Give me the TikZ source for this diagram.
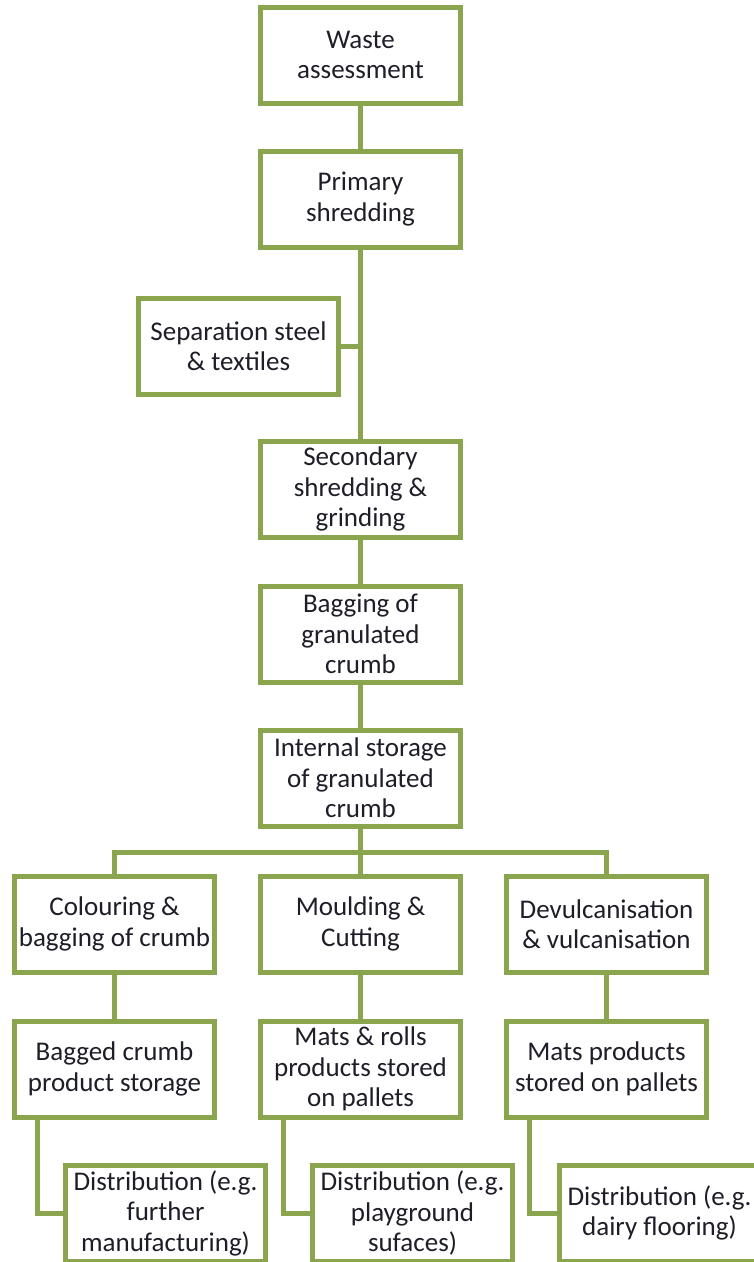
\documentclass[tikz,border=0pt]{standalone}
\usepackage{fontspec}
\setmainfont{Carlito}
\usepackage{tikz}
\usetikzlibrary{calc,positioning}
\definecolor{OliveLine}{HTML}{8BA54F}
\definecolor{TextDark}{HTML}{1E1E28}

\begin{document}
\begin{tikzpicture}[x=1pt,y=-1pt,
    stage/.style={draw=OliveLine,line width=5pt,fill=white,
      minimum width=200pt,minimum height=96pt,inner sep=0pt,
      align=center,text=TextDark,font=\fontsize{27}{30.5}\selectfont},
    link/.style={draw=OliveLine,line width=5pt}]
  \useasboundingbox (0,0) rectangle (754,1262);
  % main line
  \node[stage] (waste) at (360.5,55) {Waste\\assessment};
  \node[stage] (primary) at (360.5,199) {Primary\\shredding};
  \node[stage] (sep) at (238.5,346) {Separation steel\\\& textiles};
  \node[stage] (secondary) at (360.5,489) {Secondary\\shredding \&\\grinding};
  \node[stage] (bagging) at (360.5,634) {Bagging of\\granulated\\crumb};
  \node[stage] (internal) at (360.5,778) {Internal storage\\of granulated\\crumb};
  % three branches
  \node[stage] (colour) at (114.5,924) {Colouring \&\\bagging of crumb};
  \node[stage] (mould) at (360.5,924) {Moulding \&\\Cutting};
  \node[stage] (devulc) at (606.5,924) {Devulcanisation\\\& vulcanisation};
  \node[stage] (bagged) at (114.5,1069) {Bagged crumb\\product storage};
  \node[stage] (matsrolls) at (360.5,1069) {Mats \& rolls\\products stored\\on pallets};
  \node[stage] (matsprod) at (606.5,1069) {Mats products\\stored on pallets};
  \node[stage] (distA) at (165.5,1213) {Distribution (e.g.\\further\\manufacturing)};
  \node[stage] (distB) at (412.5,1213) {Distribution (e.g.\\playground\\sufaces)};
  \node[stage] (distC) at (659.5,1213) {Distribution (e.g.\\dairy flooring)};
  % connectors
  \draw[link] (waste) -- (primary);
  \draw[link] (primary) -- (secondary);
  \draw[link] (sep.east) -- (sep.east -| primary.south);
  \draw[link] (secondary) -- (bagging);
  \draw[link] (bagging) -- (internal);
  \draw[link] (internal) -- (mould);
  \draw[link] (colour.north) -- ++(0,-21) -| (devulc.north);
  \draw[link] (colour) -- (bagged);
  \draw[link] (mould) -- (matsrolls);
  \draw[link] (devulc) -- (matsprod);
  \draw[link] ([xshift=25pt]bagged.south west) |- (distA.west);
  \draw[link] ([xshift=25pt]matsrolls.south west) |- (distB.west);
  \draw[link] ([xshift=25pt]matsprod.south west) |- (distC.west);
\end{tikzpicture}
\end{document}
